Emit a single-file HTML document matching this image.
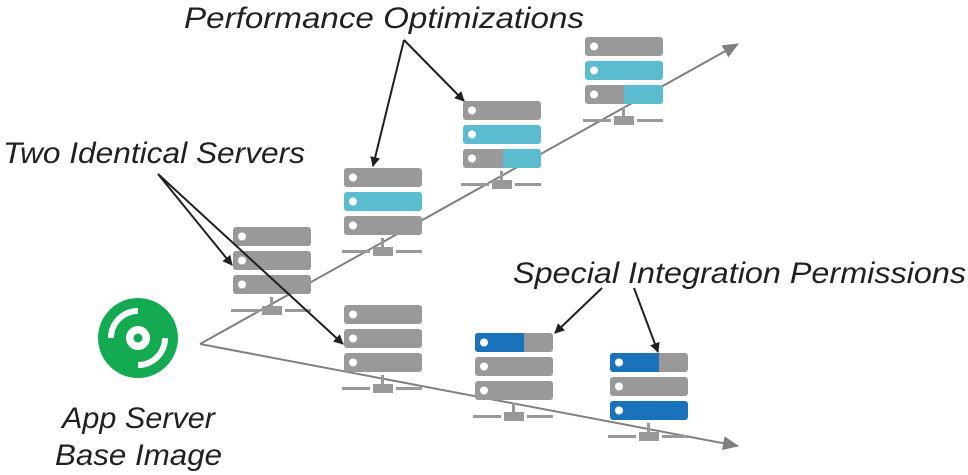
<!DOCTYPE html>
<html><head><meta charset="utf-8"><style>
html,body{margin:0;padding:0;background:#fff;}
svg{display:block;}
text{font-family:"Liberation Sans",sans-serif;font-style:italic;fill:#231f20;font-size:30px;}
</style></head><body>
<svg width="968" height="475" viewBox="0 0 968 475" xmlns="http://www.w3.org/2000/svg">
<defs>
<marker id="ab" markerWidth="10" markerHeight="10" refX="9" refY="5" orient="auto" markerUnits="userSpaceOnUse"><path d="M0,0 L10,5 L0,10 Z" fill="#231f20"/></marker>
<marker id="ag" markerWidth="16" markerHeight="14" refX="15" refY="7" orient="auto" markerUnits="userSpaceOnUse"><path d="M0,0 L16,7 L0,14 Z" fill="#808080"/></marker>
<g id="base">
<rect x="37" y="70" width="3" height="10" fill="#999"/>
<rect x="29" y="79" width="20" height="9" fill="#999"/>
<rect x="-2" y="82" width="28" height="3" fill="#999"/>
<rect x="52" y="82" width="26" height="3" fill="#999"/>
</g>
</defs>

<!-- main lines -->
<line x1="200" y1="344" x2="738" y2="44" stroke="#808080" stroke-width="2" marker-end="url(#ag)"/>
<line x1="200" y1="344" x2="738" y2="446" stroke="#808080" stroke-width="2" marker-end="url(#ag)"/>

<!-- servers -->
<!-- S1 -->
<g transform="translate(233,227)">
<rect x="0" y="0" width="78" height="19" rx="3" fill="#999"/>
<rect x="0" y="24" width="78" height="19" rx="3" fill="#999"/>
<rect x="0" y="48" width="78" height="19" rx="3" fill="#999"/>
<circle cx="9" cy="9.5" r="4" fill="#fff"/><circle cx="9" cy="33.5" r="4" fill="#fff"/><circle cx="9" cy="57.5" r="4" fill="#fff"/>
<use href="#base"/>
</g>
<!-- S2 -->
<g transform="translate(344,168)">
<rect x="0" y="0" width="78" height="19" rx="3" fill="#999"/>
<rect x="0" y="24" width="78" height="19" rx="3" fill="#5bbccf"/>
<rect x="0" y="48" width="78" height="19" rx="3" fill="#999"/>
<circle cx="9" cy="9.5" r="4" fill="#fff"/><circle cx="9" cy="33.5" r="4" fill="#fff"/><circle cx="9" cy="57.5" r="4" fill="#fff"/>
<use href="#base"/>
</g>
<!-- S3 -->
<g transform="translate(463,101)">
<rect x="0" y="0" width="78" height="19" rx="3" fill="#999"/>
<rect x="0" y="24" width="78" height="19" rx="3" fill="#5bbccf"/>
<rect x="0" y="48" width="78" height="19" rx="3" fill="#999"/>
<path d="M40,48 H75 a3,3 0 0 1 3,3 V64 a3,3 0 0 1 -3,3 H40 Z" fill="#5bbccf"/>
<circle cx="9" cy="9.5" r="4" fill="#fff"/><circle cx="9" cy="33.5" r="4" fill="#fff"/><circle cx="9" cy="57.5" r="4" fill="#fff"/>
<use href="#base"/>
</g>
<!-- S4 -->
<g transform="translate(585,37)">
<rect x="0" y="0" width="78" height="19" rx="3" fill="#999"/>
<rect x="0" y="24" width="78" height="19" rx="3" fill="#5bbccf"/>
<rect x="0" y="48" width="78" height="19" rx="3" fill="#999"/>
<path d="M39,48 H75 a3,3 0 0 1 3,3 V64 a3,3 0 0 1 -3,3 H39 Z" fill="#5bbccf"/>
<circle cx="9" cy="9.5" r="4" fill="#fff"/><circle cx="9" cy="33.5" r="4" fill="#fff"/><circle cx="9" cy="57.5" r="4" fill="#fff"/>
<use href="#base"/>
</g>
<!-- S5 -->
<g transform="translate(344,305)">
<rect x="0" y="0" width="78" height="19" rx="3" fill="#999"/>
<rect x="0" y="24" width="78" height="19" rx="3" fill="#999"/>
<rect x="0" y="48" width="78" height="19" rx="3" fill="#999"/>
<circle cx="9" cy="9.5" r="4" fill="#fff"/><circle cx="9" cy="33.5" r="4" fill="#fff"/><circle cx="9" cy="57.5" r="4" fill="#fff"/>
<use href="#base"/>
</g>
<!-- S6 -->
<g transform="translate(475,333)">
<rect x="0" y="0" width="78" height="19" rx="3" fill="#999"/>
<path d="M3,0 H49 V19 H3 a3,3 0 0 1 -3,-3 V3 a3,3 0 0 1 3,-3 Z" fill="#1a72bb"/>
<rect x="0" y="24" width="78" height="19" rx="3" fill="#999"/>
<rect x="0" y="48" width="78" height="19" rx="3" fill="#999"/>
<circle cx="9" cy="9.5" r="4" fill="#fff"/><circle cx="9" cy="33.5" r="4" fill="#fff"/><circle cx="9" cy="57.5" r="4" fill="#fff"/>
<use href="#base"/>
</g>
<!-- S7 -->
<g transform="translate(610,353)">
<rect x="0" y="0" width="78" height="19" rx="3" fill="#999"/>
<path d="M3,0 H49 V19 H3 a3,3 0 0 1 -3,-3 V3 a3,3 0 0 1 3,-3 Z" fill="#1a72bb"/>
<rect x="0" y="24" width="78" height="19" rx="3" fill="#999"/>
<rect x="0" y="48" width="78" height="19" rx="3" fill="#1a72bb"/>
<circle cx="9" cy="9.5" r="4" fill="#fff"/><circle cx="9" cy="33.5" r="4" fill="#fff"/><circle cx="9" cy="57.5" r="4" fill="#fff"/>
<use href="#base"/>
</g>

<!-- black arrows -->
<g stroke="#231f20" stroke-width="2" fill="none">
<line x1="404" y1="40" x2="373" y2="166" marker-end="url(#ab)"/>
<line x1="404" y1="40" x2="464" y2="101" marker-end="url(#ab)"/>
<line x1="158" y1="174" x2="232" y2="265" marker-end="url(#ab)"/>
<line x1="158" y1="174" x2="343" y2="344" marker-end="url(#ab)"/>
<line x1="602" y1="288" x2="555" y2="333" marker-end="url(#ab)"/>
<line x1="634" y1="288" x2="658" y2="352" marker-end="url(#ab)"/>
</g>

<!-- green disc -->
<circle cx="138" cy="338" r="40" fill="#14aa52"/>
<circle cx="138" cy="338" r="12" fill="#fff"/>
<circle cx="138" cy="338" r="4.5" fill="#14aa52"/>
<path d="M111,338 A27,27 0 0 1 138,311" stroke="#fff" stroke-width="6" fill="none"/>
<path d="M165,338 A27,27 0 0 1 138,365" stroke="#fff" stroke-width="6" fill="none"/>

<!-- labels -->
<text x="184" y="28" textLength="400" lengthAdjust="spacingAndGlyphs">Performance Optimizations</text>
<text x="3" y="163" textLength="302" lengthAdjust="spacingAndGlyphs">Two Identical Servers</text>
<text x="513" y="283" textLength="453" lengthAdjust="spacingAndGlyphs">Special Integration Permissions</text>
<text x="62" y="428" textLength="153" lengthAdjust="spacingAndGlyphs">App Server</text>
<text x="55" y="465" textLength="167" lengthAdjust="spacingAndGlyphs">Base Image</text>
</svg>
</body></html>
